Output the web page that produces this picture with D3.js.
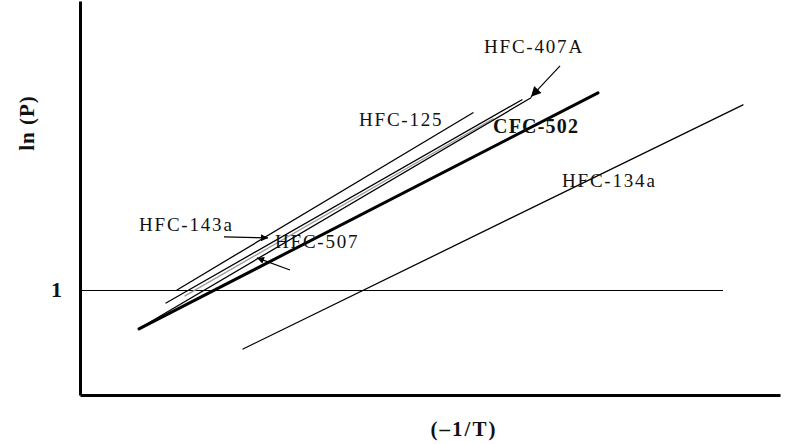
<!DOCTYPE html>
<html>
<head>
<meta charset="utf-8">
<script src="https://cdn.jsdelivr.net/npm/d3@7"></script>
<style>
  html, body { margin: 0; padding: 0; background: #fff; }
  svg { display: block; }
  text { font-family: "Liberation Serif", "Times New Roman", serif; fill: #111; }
</style>
</head>
<body>
<svg id="chart" width="797" height="444"></svg>
<script>
// Vapour-pressure lines, ln(P) against (−1/T), arbitrary units
const seriesNames = ["HFC-125", "HFC-143a", "HFC-507", "HFC-407A", "CFC-502", "HFC-134a"];
const xStart = [0.97, 0.86, 1.05, 0.60, 0.59, 1.63];
const yStart = [1.00, 0.876, 0.943, 0.638, 0.629, 0.438];
const xEnd   = [3.93, 4.42, 4.13, 4.51, 5.18, 6.63];
const yEnd   = [2.686, 2.810, 2.629, 2.829, 2.876, 2.762];

// reference level ln(P) = 1
const refLevel = 1;
const refXEnd = 6.43;
const yTickValues = [1];

// labels: text, anchor point (x, y) in data units
const labelText = ["HFC-407A", "HFC-125", "CFC-502", "HFC-134a", "HFC-143a", "HFC-507"];
const labelX = [4.04, 2.79, 4.13, 4.82, 0.59, 1.95];
const labelY = [3.257, 2.562, 2.495, 1.981, 1.562, 1.40];

// pointer arrows: from (x0,y0) to (x1,y1) in data units
const arrowX0 = [4.80, 1.44, 2.10];
const arrowY0 = [3.133, 1.505, 1.190];
const arrowX1 = [4.51, 1.88, 1.77];
const arrowY1 = [2.838, 1.495, 1.305];

const svg = d3.select("#chart");
const x = d3.scaleLinear().domain([0, 7]).range([80, 780]);
const y = d3.scaleLinear().domain([0, 3.75]).range([395, 1]);

// reference line at ln(P) = 1
svg.append("line")
  .attr("x1", x(0)).attr("x2", x(refXEnd))
  .attr("y1", y(refLevel) + 0.5).attr("y2", y(refLevel) + 0.5)
  .attr("stroke", "#000").attr("stroke-width", 1)
  .attr("shape-rendering", "crispEdges");

// axes
const yAxis = svg.append("g")
  .attr("transform", `translate(${x(0)},0)`)
  .call(d3.axisLeft(y).tickValues(yTickValues).tickSize(0).tickSizeOuter(0).tickPadding(18).tickFormat(d3.format("d")));
yAxis.select(".domain").attr("stroke", "#000").attr("stroke-width", 3);
yAxis.selectAll(".tick text")
  .attr("font-family", "Liberation Serif, serif")
  .attr("font-size", 22).attr("font-weight", "bold").attr("fill", "#111")
  .attr("dy", "0.32em");

const xAxis = svg.append("g")
  .attr("transform", `translate(0,${y(0)})`)
  .call(d3.axisBottom(x).tickValues([]).tickSizeOuter(0));
xAxis.select(".domain").attr("stroke", "#000").attr("stroke-width", 3);

// series lines
const lineGen = d3.line().x(d => x(d[0])).y(d => y(d[1]));
const series = seriesNames.map((name, i) => ({
  name,
  pts: [[xStart[i], yStart[i]], [xEnd[i], yEnd[i]]]
}));
svg.append("g").selectAll("path")
  .data(series)
  .join("path")
  .attr("d", d => lineGen(d.pts))
  .attr("fill", "none")
  .attr("stroke", d => d.name === "HFC-507" ? "#9a9a9a" : "#000")
  .attr("stroke-width", d => d.name === "CFC-502" ? 3 : 1.3)
  .attr("stroke-linecap", "round");

// arrow heads
const defs = svg.append("defs");
defs.append("marker")
  .attr("id", "head")
  .attr("viewBox", "0 0 10 10")
  .attr("refX", 10).attr("refY", 5)
  .attr("markerWidth", 8).attr("markerHeight", 7)
  .attr("markerUnits", "userSpaceOnUse")
  .attr("orient", "auto")
  .append("path").attr("d", "M0,0L10,5L0,10z").attr("fill", "#000");
defs.append("marker")
  .attr("id", "headBig")
  .attr("viewBox", "0 0 10 10")
  .attr("refX", 10).attr("refY", 5)
  .attr("markerWidth", 14).attr("markerHeight", 10)
  .attr("markerUnits", "userSpaceOnUse")
  .attr("orient", "auto")
  .append("path").attr("d", "M0,0L10,5L0,10z").attr("fill", "#000");

svg.append("g").selectAll("line")
  .data(arrowX0.map((v, i) => i))
  .join("line")
  .attr("x1", i => x(arrowX0[i])).attr("y1", i => y(arrowY0[i]))
  .attr("x2", i => x(arrowX1[i])).attr("y2", i => y(arrowY1[i]))
  .attr("stroke", "#000").attr("stroke-width", 1.2)
  .attr("marker-end", i => i === 0 ? "url(#headBig)" : "url(#head)");

// series labels
svg.append("g").selectAll("text")
  .data(labelText.map((t, i) => ({ t, i })))
  .join("text")
  .attr("x", d => x(labelX[d.i]))
  .attr("y", d => y(labelY[d.i]))
  .attr("font-size", d => d.t === "CFC-502" ? 20 : 19)
  .attr("font-weight", d => d.t === "CFC-502" ? "bold" : "normal")
  .attr("letter-spacing", d => d.t === "CFC-502" ? 1.2 : 1.8)
  .text(d => d.t);

// axis titles
svg.append("text")
  .attr("transform", `translate(34,${(y(3.75) + y(0)) / 2 - 75}) rotate(-90)`)
  .attr("text-anchor", "middle")
  .attr("font-size", 21).attr("font-weight", "bold").attr("letter-spacing", 1)
  .text("ln (P)");

svg.append("text")
  .attr("x", 464).attr("y", 436)
  .attr("text-anchor", "middle")
  .attr("font-size", 21).attr("font-weight", "bold").attr("letter-spacing", 2)
  .text("(\u20131/T)");
</script>
</body>
</html>
